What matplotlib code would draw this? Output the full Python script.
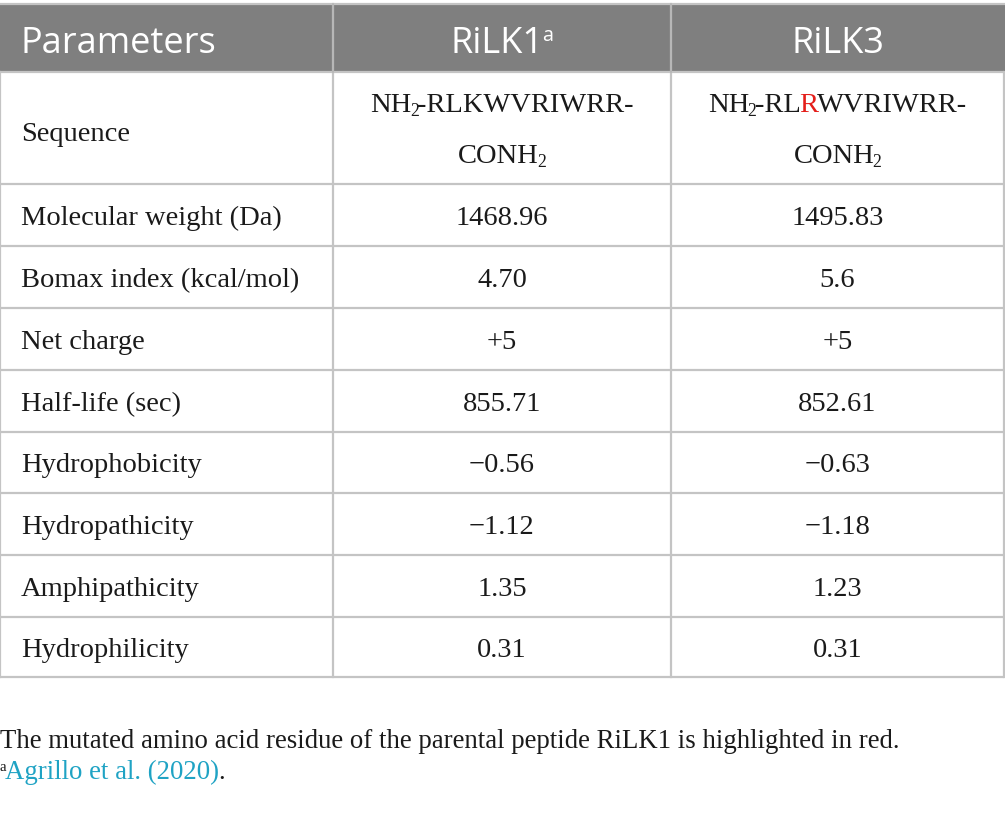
import matplotlib
matplotlib.use('Agg')
import matplotlib.pyplot as plt
from matplotlib.patches import Rectangle
from matplotlib.font_manager import FontProperties
from matplotlib.textpath import text_to_path

W, H = 1005, 816
DPI = 100

header = ['Parameters', 'RiLK1', 'RiLK3']
params = ['Sequence', 'Molecular weight (Da)', 'Bomax index (kcal/mol)', 'Net charge',
          'Half-life (sec)', 'Hydrophobicity', 'Hydropathicity', 'Amphipathicity',
          'Hydrophilicity']
rilk1 = ['NH2-RLKWVRIWRR-CONH2', '1468.96', '4.70', '+5', '855.71',
         '\u22120.56', '\u22121.12', '1.35', '0.31']
rilk3 = ['NH2-RLRWVRIWRR-CONH2', '1495.83', '5.6', '+5', '852.61',
         '\u22120.63', '\u22121.18', '1.23', '0.31']
mutated_pos = 2  # index in peptide string (after NH2-) of the residue in red
footnote = 'The mutated amino acid residue of the parental peptide RiLK1 is highlighted in red.'
reference = 'Agrillo et al. (2020)'

HEAD_BG = '#7f7f7f'
LINE = '#c4c4c4'
TXT = '#1a1a1a'
LINK = '#1fa3c4'
RED = '#e41e1a'
SERIF = 'Liberation Serif'
SANS = 'Open Sans'
BODY_FS = 20.5
HEAD_FS = 26
FN_FS = 19.3
JOIN = 1.5  # px tightening where two text runs meet

fig = plt.figure(figsize=(W / DPI, H / DPI), dpi=DPI)
ax = fig.add_axes([0, 0, 1, 1])
ax.set_xlim(0, W)
ax.set_ylim(H, 0)
ax.axis('off')

col_x = [0, 333, 671, 1004]
row_y = [4, 72, 184, 246, 308, 370, 432, 493, 555, 617, 677]


def advance_px(s, fs, family):
    # x position of a trailing glyph = advance of s
    font = text_to_path._get_font(FontProperties(family=family))
    info = text_to_path.get_glyphs_with_font(font, s + 'x')[0]
    return info[-1][1] * (fs * DPI / 72) / text_to_path.FONT_SCALE


def draw_runs(xc, y, runs, ha='center'):
    # runs: (text, size, color, dy, family)
    widths = [advance_px(r[0], r[1], r[4]) for r in runs]
    widths = [w - JOIN for w in widths[:-1]] + widths[-1:]
    x = xc - sum(widths) / 2 if ha == 'center' else xc
    for (s, fs, c, dy, fam), w in zip(runs, widths):
        ax.text(x, y + dy, s, fontsize=fs, color=c, family=fam, va='baseline', ha='left')
        x += w


# header
ax.add_patch(Rectangle((0, row_y[0]), W, row_y[1] - row_y[0], color=HEAD_BG, lw=0))
hy = 53
ax.text(21, hy, header[0], fontsize=HEAD_FS, color='white', family=SANS, va='baseline')
draw_runs((col_x[1] + col_x[2]) / 2, hy, [(header[1], HEAD_FS, 'white', 0, SANS),
                                           ('a', HEAD_FS * 0.55, 'white', -12, SANS)])
ax.text((col_x[2] + col_x[3]) / 2, hy, header[2], fontsize=HEAD_FS, color='white',
        family=SANS, va='baseline', ha='center')

# grid lines
for y in row_y[1:]:
    ax.plot([0, col_x[-1]], [y, y], color=LINE, lw=1.6, solid_capstyle='butt')
ax.plot([0, col_x[-1]], [row_y[0], row_y[0]], color=LINE, lw=1.6)
for x in col_x:
    ax.plot([x, x], [row_y[1] if x in (0, 1004) else row_y[0], row_y[-1]], color=LINE, lw=1.6)
for x in col_x[1:3]:
    ax.plot([x, x], [row_y[0], row_y[1]], color='#b5b5b5', lw=1.2)

# body
sub_fs = BODY_FS * 0.62
for i, p in enumerate(params):
    y0, y1 = row_y[i + 1], row_y[i + 2]
    yb = (y0 + y1) / 2 + 10
    if i == 0:
        yb += 3
    ax.text(21, yb, p, fontsize=BODY_FS, color=TXT, family=SERIF, va='baseline')
    for j, vals in enumerate([rilk1, rilk3]):
        xc = (col_x[j + 1] + col_x[j + 2]) / 2
        v = vals[i]
        if v.startswith('NH2-'):
            pep = v[4:].split('-')[0]
            runs1 = [('NH', BODY_FS, TXT, 0, SERIF), ('2', sub_fs, TXT, 4, SERIF)]
            if j == 1:
                runs1 += [('-' + pep[:mutated_pos], BODY_FS, TXT, 0, SERIF),
                          (pep[mutated_pos], BODY_FS, RED, 0, SERIF),
                          (pep[mutated_pos + 1:] + '-', BODY_FS, TXT, 0, SERIF)]
            else:
                runs1 += [('-' + pep + '-', BODY_FS, TXT, 0, SERIF)]
            draw_runs(xc, 112, runs1)
            draw_runs(xc, 163, [('CONH', BODY_FS, TXT, 0, SERIF), ('2', sub_fs, TXT, 4, SERIF)])
        else:
            ax.text(xc, yb, v, fontsize=BODY_FS, color=TXT, family=SERIF, va='baseline', ha='center')

# footnotes
ax.text(0, 748, footnote, fontsize=FN_FS, color=TXT, family=SERIF, va='baseline')
draw_runs(0, 779, [('a', FN_FS * 0.55, TXT, -8, SERIF), (reference, FN_FS, LINK, 0, SERIF),
                   ('.', FN_FS, TXT, 0, SERIF)], ha='left')

fig.savefig('out.png', dpi=DPI, facecolor='white')
